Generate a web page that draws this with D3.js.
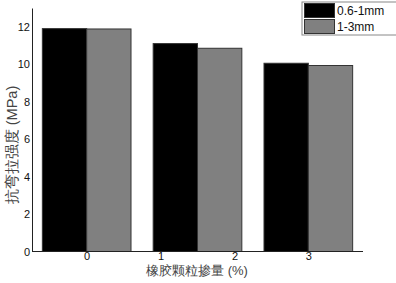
<!DOCTYPE html>
<html>
<head>
<meta charset="utf-8">
<script src="https://cdn.jsdelivr.net/npm/d3@7"></script>
<style>
  body { margin: 0; background: #fff; }
  svg text { font-family: Arial, "Liberation Sans", sans-serif; }
</style>
</head>
<body>
<div id="chart"></div>
<script>
// data
var groupPos = [0, 1.5, 3];          // x positions of the groups
var series = ["0.6-1mm", "1-3mm"];
var fine = [11.9, 11.1, 10.05];      // 0.6-1mm
var coarse = [11.88, 10.85, 9.93];   // 1-3mm
var xTicks = [0, 1, 2, 3];
var yTicks = [0, 2, 4, 6, 8, 10, 12];

var colors = ["#000000", "#808080"];
var width = 396, height = 283;

var x = d3.scaleLinear().domain([-0.74, 3.74]).range([32, 363]);
var y = d3.scaleLinear().domain([0, 13]).range([251.5, 8]);
var barW = 0.6; // in x units

var svg = d3.select("#chart").append("svg")
    .attr("width", width)
    .attr("height", height);

var rows = [];
groupPos.forEach(function (g, i) {
    rows.push({ x: g - barW, v: fine[i], s: 0 });
    rows.push({ x: g, v: coarse[i], s: 1 });
});

svg.selectAll("rect.bar")
    .data(rows)
    .enter()
    .append("rect")
    .attr("class", "bar")
    .attr("x", d => x(d.x))
    .attr("width", d => x(d.x + barW) - x(d.x))
    .attr("y", d => y(d.v))
    .attr("height", d => y(0) - y(d.v))
    .attr("fill", d => colors[d.s])
    .attr("stroke", "#333")
    .attr("stroke-width", 1);

// x axis
var gx = svg.append("g")
    .attr("transform", "translate(0," + y(0) + ")")
    .call(d3.axisBottom(x).tickValues(xTicks).tickFormat(d3.format("d"))
        .tickSize(0).tickPadding(1).tickSizeOuter(0));
gx.select("path").attr("stroke", "#222").attr("d", "M32,0H363");
gx.selectAll("text").attr("font-size", 11).attr("fill", "#111");

// y axis
var gy = svg.append("g")
    .attr("transform", "translate(32,0)")
    .call(d3.axisLeft(y).tickValues(yTicks).tickFormat(d3.format("d"))
        .tickSize(0).tickPadding(2).tickSizeOuter(0));
gy.select("path").attr("stroke", "#222");
gy.selectAll("text").attr("font-size", 11).attr("fill", "#111");

// axis titles
svg.append("text")
    .attr("x", 197)
    .attr("y", 275)
    .attr("text-anchor", "middle")
    .attr("font-size", 13)
    .attr("fill", "#444")
    .attr("font-family", "Arial, 'Noto Sans CJK SC', sans-serif")
    .text("橡胶颗粒掺量 (%)");

svg.append("text")
    .attr("transform", "translate(17,145) rotate(-90)")
    .attr("text-anchor", "middle")
    .attr("font-size", 14.5)
    .attr("fill", "#444")
    .attr("font-family", "Arial, 'Noto Sans CJK SC', sans-serif")
    .text("抗弯拉强度 (MPa)");

// legend
var lg = svg.append("g").attr("transform", "translate(302,2)");
lg.append("rect")
    .attr("width", 95).attr("height", 33)
    .attr("fill", "#fff").attr("stroke", "#888");
series.forEach(function (s, i) {
    lg.append("rect")
        .attr("x", 2.5).attr("y", 1.5 + i * 16)
        .attr("width", 30).attr("height", 14)
        .attr("fill", colors[i]).attr("stroke", "#333");
    lg.append("text")
        .attr("x", 35).attr("y", 13 + i * 16)
        .attr("font-size", 12)
        .attr("fill", "#111")
        .text(s);
});
</script>
</body>
</html>
